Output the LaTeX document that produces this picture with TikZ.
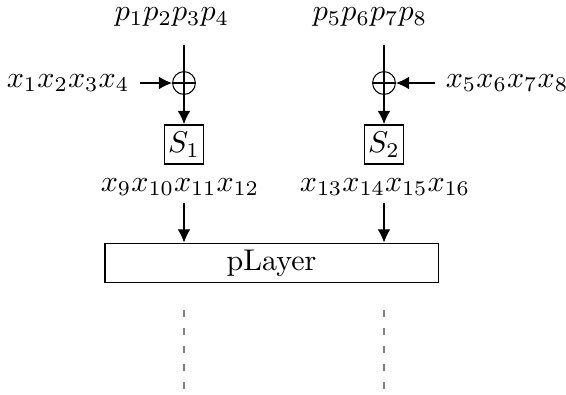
\documentclass[tikz,border=0pt]{standalone}
\usetikzlibrary{arrows.meta}
\begin{document}
\begin{tikzpicture}[x=0.3333pt,y=-0.3333pt,line width=0.35pt,
  arr/.style={-{Latex[length=4.4pt,width=4.2pt]}},
  xorc/.style={circle,draw,minimum size=7.6pt,inner sep=0pt,
    path picture={\draw (path picture bounding box.north) -- (path picture bounding box.south)
      (path picture bounding box.west) -- (path picture bounding box.east);}},
  sbox/.style={draw,line width=0.6pt,minimum size=13pt,inner sep=0pt},
  lbl/.style={inner sep=3.3pt},
  dashline/.style={gray,dash pattern=on 2.3pt off 3.7pt}]
\useasboundingbox (0,0) rectangle (566,394);
% left column
\node[lbl] (p1) at (172,17) {$p_1p_2p_3p_4$};
\coordinate (t1) at (184,45);
\node[xorc] (o1) at (184,83) {};
\node[lbl] (x1) at (68,83) {$x_1x_2x_3x_4$};
\node[sbox] (s1) at (184,144.5) {$S_1$};
\node[lbl] (x9) at (180,187) {$x_9x_{10}x_{11}x_{12}$};
\coordinate (a1) at (184,203);
% right column
\node[lbl] (p5) at (370,17) {$p_5p_6p_7p_8$};
\coordinate (t2) at (384,45);
\node[xorc] (o2) at (384,83) {};
\node[lbl] (x5) at (507,83) {$x_5x_6x_7x_8$};
\node[sbox] (s2) at (384,144.5) {$S_2$};
\node[lbl] (x13) at (385,187) {$x_{13}x_{14}x_{15}x_{16}$};
\coordinate (a2) at (384,203);
% pLayer
\node[draw,minimum width=111pt,minimum height=13.3pt,inner sep=0pt] (pl) at (271.5,263) {pLayer};
\coordinate (d1) at (184,310);
\coordinate (e1) at (184,394);
\coordinate (d2) at (384,310);
\coordinate (e2) at (384,394);
% connectors
\draw (t1) -- (o1.north);
\draw[arr] (o1) -- (s1);
\draw[arr] (x1) -- (o1);
\draw (t2) -- (o2.north);
\draw[arr] (o2) -- (s2);
\draw[arr] (x5) -- (o2);
\draw[arr] (a1) -- (a1 |- pl.north);
\draw[arr] (a2) -- (a2 |- pl.north);
\draw[dashline] (d1) -- (e1);
\draw[dashline] (d2) -- (e2);
\end{tikzpicture}
\end{document}
